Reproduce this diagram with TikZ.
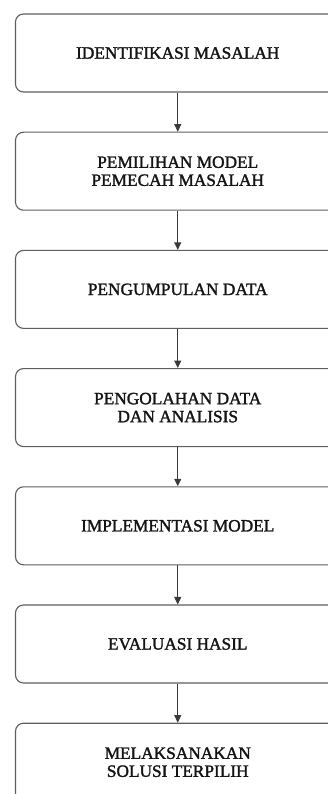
\documentclass[tikz,border=0pt]{standalone}
\usepackage{fontspec}
\setmainfont{Liberation Serif}
\newfontfamily\boxfont[FakeBold=1.6]{Liberation Serif}
\usetikzlibrary{arrows.meta}
\definecolor{boxline}{HTML}{5E5E5E}
\definecolor{arrowline}{HTML}{3A3A3A}
\definecolor{txt}{HTML}{141414}
\tikzset{
  stepbox/.style={draw=boxline, line width=1.1pt, rounded corners=8pt,
    minimum width=324.5pt, minimum height=78pt, inner sep=0pt,
    align=center, text=txt, font=\boxfont\fontsize{17.3}{18}\selectfont},
  flowarrow/.style={draw=arrowline, line width=0.9pt,
    -{Triangle[length=7.5pt,width=7pt]}}
}
\begin{document}
\begin{tikzpicture}[x=1pt,y=1pt]
\clip (0,0) rectangle (328,-794);
\fill[white] (0,0) rectangle (328,-794);
\node[stepbox] (b1) at (177.75,-53) {IDENTIFIKASI MASALAH};
\node[stepbox] (b2) at (177.75,-171.2) {PEMILIHAN MODEL\\PEMECAH MASALAH};
\node[stepbox] (b3) at (177.75,-289.4) {PENGUMPULAN DATA};
\node[stepbox] (b4) at (177.75,-407.6) {PENGOLAHAN DATA\\DAN ANALISIS};
\node[stepbox] (b5) at (177.75,-525.8) {IMPLEMENTASI MODEL};
\node[stepbox] (b6) at (177.75,-644) {EVALUASI HASIL};
\node[stepbox] (b7) at (177.75,-762.2) {MELAKSANAKAN\\SOLUSI TERPILIH};
\draw[flowarrow] (b1.south) -- (b2.north);
\draw[flowarrow] (b2.south) -- (b3.north);
\draw[flowarrow] (b3.south) -- (b4.north);
\draw[flowarrow] (b4.south) -- (b5.north);
\draw[flowarrow] (b5.south) -- (b6.north);
\draw[flowarrow] (b6.south) -- (b7.north);
\end{tikzpicture}
\end{document}
